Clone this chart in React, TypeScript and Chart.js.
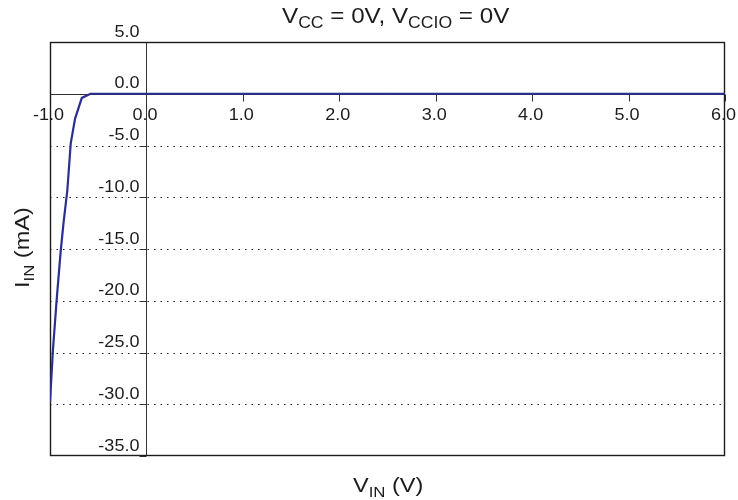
import React, { useEffect, useRef } from "react";
import { Chart, registerables } from "chart.js";

Chart.register(...registerables);

// ---- data ----
const VIN = [-1.0, -0.97, -0.93, -0.89, -0.86, -0.82, -0.785, -0.74, -0.67, -0.58, 0, 1, 2, 3, 4, 5, 6];
const IIN = [-29.8, -24.8, -19.8, -15.3, -12.5, -9.3, -4.8, -2.4, -0.4, 0, 0, 0, 0, 0, 0, 0, 0];

const X_TICKS = [-1, 0, 1, 2, 3, 4, 5, 6];
const Y_TICKS = [5, 0, -5, -10, -15, -20, -25, -30, -35];
const GRID_Y = [-5, -10, -15, -20, -25, -30];

type Seg = { t: string; sub?: boolean };
const TITLE: Seg[] = [
  { t: "V" }, { t: "CC", sub: true }, { t: " = 0V, V" }, { t: "CCIO", sub: true }, { t: " = 0V" },
];
const X_TITLE: Seg[] = [{ t: "V" }, { t: "IN", sub: true }, { t: " (V)" }];
const Y_TITLE: Seg[] = [{ t: "I" }, { t: "IN", sub: true }, { t: " (mA)" }];

const FONT = '"Liberation Sans", Arial, sans-serif';
const INK = "#1e1b1c";

function font(size: number) {
  return `${size}px ${FONT}`;
}

function drawRich(
  ctx: CanvasRenderingContext2D,
  segs: Seg[],
  size: number,
  subSize: number,
  subDy: number,
  align: "left" | "center" | "right"
) {
  let w = 0;
  for (const s of segs) {
    ctx.font = font(s.sub ? subSize : size);
    w += ctx.measureText(s.t).width;
  }
  let cx = align === "center" ? -w / 2 : align === "right" ? -w : 0;
  ctx.textAlign = "left";
  ctx.textBaseline = "alphabetic";
  for (const s of segs) {
    ctx.font = font(s.sub ? subSize : size);
    ctx.fillText(s.t, cx, s.sub ? subDy : 0);
    cx += ctx.measureText(s.t).width;
  }
}

const decor = {
  id: "decor",
  beforeDatasetsDraw(chart: any) {
    const { ctx, chartArea, scales } = chart;
    const { left, right, top, bottom } = chartArea;
    const xs = scales.x, ys = scales.y;
    const x0 = Math.round(xs.getPixelForValue(0)) + 0.5;
    const y0 = Math.round(ys.getPixelForValue(0)) + 0.5;
    ctx.save();
    ctx.strokeStyle = INK;
    ctx.lineWidth = 1;
    // dotted grid
    ctx.setLineDash([1.5, 5]);
    for (const v of GRID_Y) {
      const py = Math.round(ys.getPixelForValue(v)) + 0.5;
      ctx.beginPath();
      ctx.moveTo(left, py);
      ctx.lineTo(right, py);
      ctx.stroke();
    }
    ctx.setLineDash([]);
    // zero axes
    ctx.strokeStyle = "#333";
    ctx.beginPath();
    ctx.moveTo(left, y0);
    ctx.lineTo(right, y0);
    ctx.moveTo(x0, top);
    ctx.lineTo(x0, bottom);
    ctx.stroke();
    // ticks
    ctx.beginPath();
    for (const v of X_TICKS) {
      const px = Math.round(xs.getPixelForValue(v)) + 0.5;
      ctx.moveTo(px, y0);
      ctx.lineTo(px, y0 + 7);
    }
    for (const v of Y_TICKS) {
      const py = Math.round(ys.getPixelForValue(v)) + 0.5;
      ctx.moveTo(x0 - 7, py);
      ctx.lineTo(x0, py);
    }
    ctx.stroke();
    // frame
    ctx.strokeStyle = INK;
    ctx.lineWidth = 1.4;
    ctx.strokeRect(left + 0.5, top + 0.5, right - left - 1, bottom - top - 1);
    ctx.restore();
  },
  afterDraw(chart: any) {
    const { ctx, scales } = chart;
    const xs = scales.x, ys = scales.y;
    const x0 = xs.getPixelForValue(0);
    const y0 = ys.getPixelForValue(0);
    ctx.save();
    ctx.fillStyle = INK;
    // x tick labels
    for (const v of X_TICKS) {
      const px = xs.getPixelForValue(v);
      ctx.save();
      ctx.translate(px - 1.5, y0 + 26.5);
      ctx.scale(1.06, 1);
      drawRich(ctx, [{ t: v.toFixed(1) }], 17, 17, 0, "center");
      ctx.restore();
    }
    // y tick labels
    for (const v of Y_TICKS) {
      const py = ys.getPixelForValue(v);
      ctx.save();
      ctx.translate(x0 - 7, py - 5.5);
      ctx.scale(1.06, 1);
      drawRich(ctx, [{ t: v.toFixed(1) }], 17, 17, 0, "right");
      ctx.restore();
    }
    // title
    ctx.save();
    ctx.translate(282, 23);
    ctx.scale(1.1, 1);
    drawRich(ctx, TITLE, 22, 16, 5, "left");
    ctx.restore();
    // x title
    ctx.save();
    ctx.translate(353, 492);
    ctx.scale(1.12, 1);
    drawRich(ctx, X_TITLE, 21, 15, 5, "left");
    ctx.restore();
    // y title
    ctx.save();
    ctx.translate(29, 288);
    ctx.rotate(-Math.PI / 2);
    ctx.scale(1.12, 1);
    drawRich(ctx, Y_TITLE, 21, 15, 5, "left");
    ctx.restore();
    ctx.restore();
  },
};

export default function App() {
  const ref = useRef<HTMLCanvasElement>(null);
  useEffect(() => {
    if (!ref.current) return;
    const chart = new Chart(ref.current, {
      type: "scatter",
      data: {
        datasets: [
          {
            data: VIN.map((x, i) => ({ x, y: IIN[i] })),
            showLine: true,
            borderColor: "#2b2f8f",
            backgroundColor: "#2b2f8f",
            borderWidth: 2.2,
            pointRadius: 0,
            tension: 0,
          },
        ],
      },
      options: {
        responsive: false,
        animation: false,
        devicePixelRatio: 1,
        layout: { padding: { left: 50, top: 42, right: 13, bottom: 44 } },
        plugins: { legend: { display: false }, tooltip: { enabled: false }, title: { display: false } },
        scales: {
          x: { type: "linear", min: -1, max: 6, display: false },
          y: { type: "linear", min: -35, max: 5, display: false },
        },
      },
      plugins: [decor],
    });
    return () => chart.destroy();
  }, []);
  return (
    <div style={{ position: "absolute", left: 0, top: 0, width: 738, height: 500, background: "#fff" }}>
      <canvas ref={ref} width={738} height={500} style={{ display: "block" }} />
    </div>
  );
}
